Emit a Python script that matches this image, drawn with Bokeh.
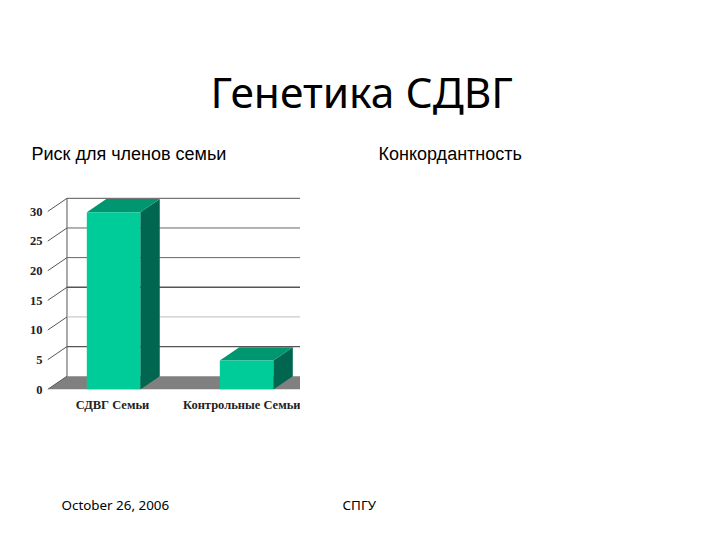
from bokeh.plotting import figure
from bokeh.layouts import column, row
from bokeh.models import Range1d, FixedTicker, Label
from bokeh.embed import file_html
from bokeh.resources import INLINE

# ---- data ----
categories = ["СДВГ Семьи", "Контрольные Семьи"]
risk_values = [29.9, 4.9]
y_ticks = [0, 5, 10, 15, 20, 25, 30]
title_text = "Генетика СДВГ"
left_heading = "Риск для членов семьи"
right_heading = "Конкордантность"
footer_date = "October 26, 2006"
footer_org = "СПГУ"

# ---- styling ----
FRONT, TOP, SIDE = "#00CC99", "#00966F", "#00664F"
FLOOR = "#808080"
GRID_COL = ["#808080", "#555555", "#bdbdbd", "#555555", "#666666", "#666666", "#555555"]
GRID_W = [1, 1.2, 1, 1.6, 1, 1, 1]
HEAD = "Noto Sans"
LEFT = 47
LABEL_POS = [-0.008, 1.085]


def text_panel(height):
    f = figure(width=712, height=height, output_backend="svg", toolbar_location=None,
               x_range=Range1d(0, 712), y_range=Range1d(height, 0), min_border=0)
    f.axis.visible = False
    f.grid.visible = False
    f.outline_line_color = None
    return f


def put(f, x, y, s, font, size):
    f.add_layout(Label(x=x, y=y, text=s, text_font=font, text_font_size=f"{size}px",
                       text_color="#000000", text_baseline="alphabetic", text_align="left"))


header = text_panel(190)
put(header, 210, 91, title_text, HEAD, 42.5)
put(header, 31, 153, left_heading, "Liberation Sans", 18)
put(header, 378, 153, right_heading, "Liberation Sans", 18)

# chart: x unit = distance between the bars, y unit = value
dx, dy = 0.1465, 2.24
bw = 0.402
x0, x1 = -0.4965, 1.4055
chart = figure(width=300, height=230, output_backend="svg", toolbar_location=None,
               x_range=Range1d(x0, x1), y_range=Range1d(0, 33.56),
               min_border_left=LEFT, min_border_right=0, min_border_top=0, min_border_bottom=31)
chart.outline_line_color = None
chart.grid.visible = False
chart.yaxis.ticker = FixedTicker(ticks=y_ticks)
chart.yaxis.axis_line_color = None
chart.yaxis.major_tick_line_color = None
chart.yaxis.major_tick_out = 0
chart.yaxis.minor_tick_line_color = None
chart.yaxis.major_label_standoff = 5
chart.yaxis.major_label_text_font = "Liberation Serif"
chart.yaxis.major_label_text_font_style = "bold"
chart.yaxis.major_label_text_font_size = "12.5px"
chart.yaxis.major_label_text_color = "#222222"
chart.xaxis.ticker = FixedTicker(ticks=LABEL_POS)
chart.xaxis.major_label_overrides = {LABEL_POS[0]: categories[0], LABEL_POS[1]: categories[1]}
chart.xaxis.axis_line_color = None
chart.xaxis.major_tick_line_color = None
chart.xaxis.major_tick_out = 0
chart.xaxis.minor_tick_line_color = None
chart.xaxis.major_label_standoff = 8
chart.xaxis.major_label_text_font = "Liberation Serif"
chart.xaxis.major_label_text_font_style = "bold"
chart.xaxis.major_label_text_font_size = "12.5px"
chart.xaxis.major_label_text_color = "#222222"

wall_x = x0 + dx
chart.patch([x0, wall_x, x1, x1], [0, dy, dy, 0], fill_color=FLOOR, line_color=None)
chart.segment(x0=[wall_x], y0=[dy], x1=[wall_x], y1=[max(y_ticks) + dy], line_color="#555555", line_width=1)
for t, c, w in zip(y_ticks, GRID_COL, GRID_W):
    if t > 0:
        chart.line([wall_x, x1], [t + dy, t + dy], line_color=c, line_width=w)
    chart.line([x0, wall_x], [t, t + dy], line_color="#555555", line_width=1)

for i, v in enumerate(risk_values):
    l, r = i - bw / 2, i + bw / 2
    chart.patch([r, r + dx, r + dx, r], [0, dy, v + dy, v], fill_color=SIDE, line_color=None)
    chart.patch([l, r, r + dx, l + dx], [v, v, v + dy, v + dy], fill_color=TOP, line_color=None)
chart.vbar(x=[0, 1], top=risk_values, bottom=0, width=bw, fill_color=FRONT, line_color=None)

footer = text_panel(112)
put(footer, 61, 84, footer_date, HEAD, 13.4)
put(footer, 342, 84, footer_org, HEAD, 13.4)

page = column(header, row(chart), footer, spacing=0)
open("out.html", "w").write(file_html(page, INLINE))
